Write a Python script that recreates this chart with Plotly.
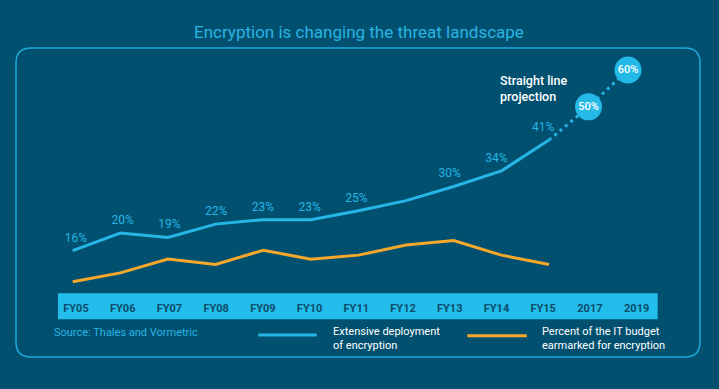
import plotly.graph_objects as go

# ---------------- data ----------------
categories = ["FY05", "FY06", "FY07", "FY08", "FY09", "FY10", "FY11",
              "FY12", "FY13", "FY14", "FY15", "2017", "2019"]
fy_years = ["FY05", "FY06", "FY07", "FY08", "FY09", "FY10", "FY11",
            "FY12", "FY13", "FY14", "FY15"]
deployment = [16, 20, 19, 22, 23, 23, 25, 27.3, 30.5, 34, 41]
deployment_labels = ["16%", "20%", "19%", "22%", "23%", "23%", "25%", "",
                     "30%", "34%", "41%"]
budget = [9.0, 11.0, 14.1, 12.9, 16.1, 14.1, 15.0, 17.3, 18.3, 15.0, 12.9]
proj_years = ["FY15", "2017", "2019"]
projection = [41, 50, 60]
projection_labels = ["", "50%", "60%"]
series_names = ["Extensive deployment<br>of encryption",
                "Percent of the IT budget<br>earmarked for encryption"]
title_text = "Encryption is changing the threat landscape"
source_text = "Source: Thales and Vormetric"
projection_note = "Straight line<br>projection"

# ---------------- styles ----------------
W, H = 719, 389
BG = "#01506F"
CYAN = "#27B5E5"
BAND = "#22BDEA"
ORANGE = "#F7A72A"
BOX = "#1EA9DA"
TICK = "#0D4C6B"
FONT = "Roboto"


def px(x):
    return x / W


def py(y):
    return 1 - y / H


def cat_range(p0, step):
    # index positions: index 0 at pixel p0, spacing step pixels
    return [-p0 / step, (W - p0) / step]


def val_range(v0, p0, k):
    # value v0 at pixel p0, k pixels per unit
    return [v0 - (H - p0) / k, v0 + p0 / k]


fig = go.Figure()

# budget line
fig.add_trace(go.Scatter(x=fy_years, y=budget, xaxis="x2", yaxis="y",
                         mode="lines", line=dict(color=ORANGE, width=3),
                         hoverinfo="skip", showlegend=False))
# deployment line
fig.add_trace(go.Scatter(x=fy_years, y=deployment, xaxis="x2", yaxis="y",
                         mode="lines", line=dict(color=CYAN, width=3),
                         hoverinfo="skip", showlegend=False))
# deployment labels
fig.add_trace(go.Scatter(x=fy_years, y=deployment, xaxis="x", yaxis="y",
                         mode="markers+text", text=deployment_labels,
                         textposition="top center",
                         marker=dict(size=8, opacity=0),
                         textfont=dict(family=FONT, size=12, color=CYAN),
                         hoverinfo="skip", showlegend=False))
# projection dotted line
fig.add_trace(go.Scatter(x=proj_years, y=projection, xaxis="x3", yaxis="y3",
                         mode="lines",
                         line=dict(color=CYAN, width=3, dash="3px,4px"),
                         hoverinfo="skip", showlegend=False))
# projection bubbles
fig.add_trace(go.Scatter(x=proj_years[1:], y=projection[1:], xaxis="x3", yaxis="y3",
                         mode="markers+text", text=projection_labels[1:],
                         textposition="middle center",
                         marker=dict(size=27, color="#25B9E8", line=dict(width=0)),
                         textfont=dict(family=FONT, size=11, color="white", weight=500),
                         hoverinfo="skip", showlegend=False))

hidden = dict(showgrid=False, zeroline=False, showline=False,
              showticklabels=False, ticks="", fixedrange=True)

fig.update_layout(
    width=W, height=H,
    margin=dict(l=0, r=0, t=0, b=0),
    paper_bgcolor=BG, plot_bgcolor=BG,
    showlegend=False,
    xaxis=dict(type="category", categoryorder="array", categoryarray=categories,
               range=cat_range(76, 46.72), domain=[0, 1],
               showgrid=False, zeroline=False, showline=False, ticks="",
               tickmode="array", tickvals=categories, ticktext=categories,
               tickfont=dict(family=FONT, size=11, color=TICK, weight="bold"),
               anchor="free", position=py(300), fixedrange=True),
    xaxis2=dict(type="category", categoryorder="array", categoryarray=fy_years,
                range=cat_range(72.7, 47.63), overlaying="x", anchor="y",
                **hidden),
    xaxis3=dict(type="category", categoryorder="array", categoryarray=proj_years,
                range=cat_range(549, 39.5), overlaying="x", anchor="y3",
                **hidden),
    yaxis=dict(range=val_range(16, 250.7, 4.43), domain=[0, 1], **hidden),
    yaxis3=dict(range=val_range(41, 140, 3.684), overlaying="y", anchor="x3",
                **hidden),
)

# rounded box
x0, x1, y0, y1 = px(16), px(700), py(48), py(357)
rx, ry = 15 / W, 15 / H
box_path = (f"M {x0+rx},{y0} L {x1-rx},{y0} Q {x1},{y0} {x1},{y0-ry} "
            f"L {x1},{y1+ry} Q {x1},{y1} {x1-rx},{y1} "
            f"L {x0+rx},{y1} Q {x0},{y1} {x0},{y1+ry} "
            f"L {x0},{y0-ry} Q {x0},{y0} {x0+rx},{y0} Z")
shapes = [
    dict(type="path", path=box_path, xref="paper", yref="paper",
         line=dict(color=BOX, width=1.5), layer="below"),
    dict(type="rect", xref="paper", yref="paper",
         x0=px(58), x1=px(657.7), y0=py(319.3), y1=py(293.3),
         fillcolor=BAND, line=dict(width=0), layer="below"),
    dict(type="line", xref="paper", yref="paper",
         x0=px(258.3), x1=px(316.7), y0=py(335), y1=py(335),
         line=dict(color=CYAN, width=3)),
    dict(type="line", xref="paper", yref="paper",
         x0=px(467.3), x1=px(526.7), y0=py(335.7), y1=py(335.7),
         line=dict(color=ORANGE, width=3)),
]
fig.update_layout(shapes=shapes)

annotations = [
    dict(text=title_text, x=px(359), y=py(31.7), xref="paper", yref="paper",
         xanchor="center", yanchor="middle", showarrow=False,
         font=dict(family=FONT, size=17, color="#2AB4E2")),
    dict(text=projection_note, x=px(498), y=py(88), xref="paper", yref="paper",
         xanchor="left", yanchor="middle", align="left", showarrow=False,
         font=dict(family=FONT, size=12.5, color="white", weight=500)),
    dict(text=source_text, x=px(52), y=py(332.7), xref="paper", yref="paper",
         xanchor="left", yanchor="middle", showarrow=False,
         font=dict(family=FONT, size=11, color=CYAN)),
    dict(text=series_names[0], x=px(331), y=py(338.7), xref="paper", yref="paper",
         xanchor="left", yanchor="middle", align="left", showarrow=False,
         font=dict(family=FONT, size=11, color="white")),
    dict(text=series_names[1], x=px(540), y=py(338.7), xref="paper", yref="paper",
         xanchor="left", yanchor="middle", align="left", showarrow=False,
         font=dict(family=FONT, size=11, color="white")),
]
fig.update_layout(annotations=annotations)

fig.write_html("out.html", config={"displayModeBar": False},
               post_script="document.body.style.margin='0';"
                           "document.body.style.overflow='hidden';")
